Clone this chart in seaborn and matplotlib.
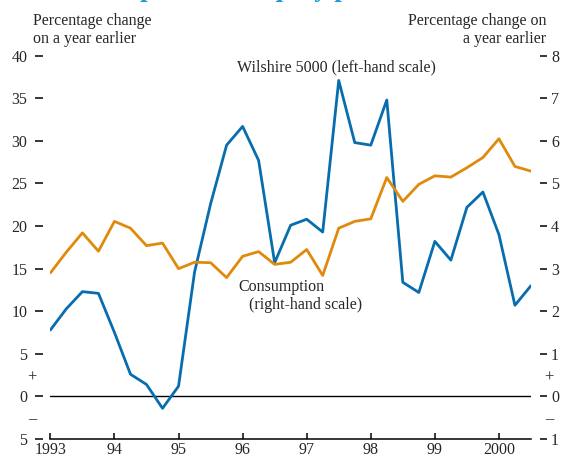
import numpy as np
import pandas as pd
import seaborn as sns
import matplotlib.pyplot as plt

# Quarterly data, 1993 Q1 to 2000 Q3 (percentage change on a year earlier)
quarters = [1993 + 0.25 * i for i in range(31)]
wilshire = [7.8, 10.3, 12.3, 12.1, 7.5, 2.6, 1.4, -1.4, 1.2, 14.6, 22.6, 29.5,
            31.7, 27.7, 15.7, 20.1, 20.8, 19.3, 37.1, 29.8, 29.5, 34.8, 13.4, 12.2,
            18.2, 16.0, 22.2, 24.0, 19.0, 10.7, 13.0]
consumption = [2.90, 3.39, 3.84, 3.41, 4.11, 3.95, 3.54, 3.60, 3.00, 3.15, 3.14, 2.79,
               3.29, 3.40, 3.10, 3.15, 3.45, 2.84, 3.95, 4.11, 4.17, 5.14, 4.58, 4.98,
               5.18, 5.15, 5.37, 5.61, 6.05, 5.40, 5.29]
year_ticks = [1993, 1994, 1995, 1996, 1997, 1998, 1999, 2000]
year_labels = ["1993", "94", "95", "96", "97", "98", "99", "2000"]
left_ticks = [-5, 0, 5, 10, 15, 20, 25, 30, 35, 40]
left_labels = ["5", "0", "5", "10", "15", "20", "25", "30", "35", "40"]
right_ticks = [-1, 0, 1, 2, 3, 4, 5, 6, 7, 8]
right_labels = ["1", "0", "1", "2", "3", "4", "5", "6", "7", "8"]

df = pd.DataFrame({"quarter": quarters, "wilshire": wilshire, "consumption": consumption})

sns.set_style("white", {'axes.grid': False})
plt.rcParams['font.family'] = ['Liberation Serif', 'DejaVu Serif']
plt.rcParams['font.size'] = 11.5

blue = "#086daf"
orange = "#e08a0b"

fig = plt.figure(figsize=(5.63, 4.59), dpi=100)
ax = fig.add_axes([0.0895, 0.0436, 0.8536, 0.835])
ax2 = ax.twinx()

sns.lineplot(data=df, x="quarter", y="wilshire", ax=ax, color=blue, lw=2.0)
sns.lineplot(data=df, x="quarter", y="consumption", ax=ax2, color=orange, lw=2.0)
ax.axhline(0, color="black", lw=1.0, zorder=1)

ax.set_xlim(1993, 2000.5)
ax.set_ylim(-5, 40)
ax2.set_ylim(-1, 8)
ax.set_xlabel("")
ax.set_ylabel("")
ax2.set_ylabel("")

ax.set_xticks(year_ticks)
ax.set_xticklabels(year_labels)
ax.set_yticks(left_ticks)
ax.set_yticklabels(left_labels)
ax2.set_yticks(right_ticks)
ax2.set_yticklabels(right_labels)

for a in (ax, ax2):
    for s in ("top", "left", "right", "bottom"):
        a.spines[s].set_visible(False)
ax.spines["bottom"].set_visible(True)
ax.spines["bottom"].set_color("black")
ax.spines["bottom"].set_linewidth(1.1)
ax.spines["left"].set_position(("outward", 5))
ax2.spines["right"].set_position(("outward", 6.5))

ax.tick_params(axis="x", direction="in", length=4, width=1.1, color="black",
               pad=2, bottom=True, labelsize=11.5)
ax.tick_params(axis="y", direction="out", length=5.5, width=1.1, color="black",
               pad=6, left=True, labelsize=11.5)
ax2.tick_params(axis="y", direction="out", length=5, width=1.1, color="black",
                pad=3, right=True, labelsize=11.5)

# series labels
ax.text(1995.91, 38.6, "Wilshire 5000 (left-hand scale)", ha="left", va="center")
ax.text(1995.94, 12.8, "Consumption", ha="left", va="center")
ax.text(1996.10, 10.7, "(right-hand scale)", ha="left", va="center")

# axis headers
fig.text(33 / 563, 1 - 13 / 459, "Percentage change\non a year earlier",
         ha="left", va="top", linespacing=1.2)
fig.text(546 / 563, 1 - 13 / 459, "Percentage change on\na year earlier",
         ha="right", va="top", linespacing=1.2)

# sign markers around zero
for xp in (32, 549):
    fig.text(xp / 563, 1 - 378 / 459, "+", ha="center", va="center", fontsize=12)
    fig.text(xp / 563, 1 - 419 / 459, "\u2013", ha="center", va="center", fontsize=12)

# chart title, cut off at the top of the image as in the source
fig.text(45 / 563, 1 + 3.5 / 459, "Consumption and equity prices", ha="left", va="baseline",
         fontsize=19.3, fontweight="bold", color="#1b9ad6")

fig.savefig("out.png", dpi=100)
